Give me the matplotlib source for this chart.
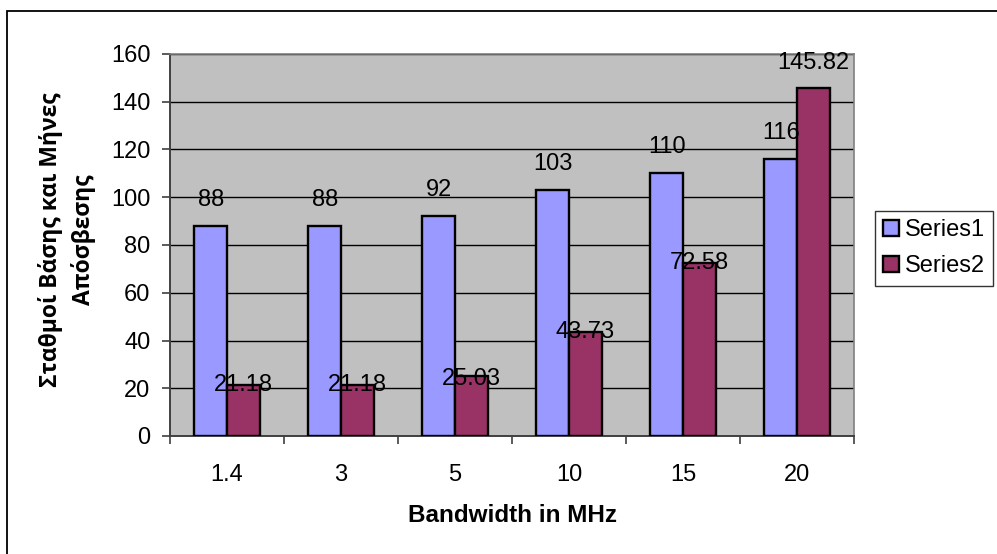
import matplotlib
matplotlib.use("Agg")
import matplotlib.pyplot as plt
from matplotlib.patches import Rectangle
import numpy as np

# data
bandwidth = ["1.4", "3", "5", "10", "15", "20"]
series1 = [88, 88, 92, 103, 110, 116]
series2 = [21.18, 21.18, 25.03, 43.73, 72.58, 145.82]
series_names = ["Series1", "Series2"]

# label offsets (points above bar top), Excel put them a bit irregularly
off1 = [19, 19, 19, 19, 19, 19]
off2 = [0, 0, -2, 0, 0, 18]

W, H = 997, 554
fig = plt.figure(figsize=(W / 100, H / 100), dpi=100)
fig.patch.set_facecolor("white")

# outer chart border (right/bottom run off the picture)
fig.patches.append(Rectangle((7 / W, -0.1), 1.2, 1 - 11 / H + 0.1,
                             transform=fig.transFigure, fill=False,
                             edgecolor="black", linewidth=1.3))

ax = fig.add_axes([170 / W, 1 - 436 / H, (854 - 170) / W, (436 - 54) / H])
ax.set_facecolor("#C0C0C0")

x = np.arange(len(bandwidth))
bw = 1 / 3.5
b1 = ax.bar(x - bw / 2, series1, bw, color="#9999FF", edgecolor="black",
            linewidth=1.7, label=series_names[0], zorder=3)
b2 = ax.bar(x + bw / 2, series2, bw, color="#993366", edgecolor="black",
            linewidth=1.7, label=series_names[1], zorder=3)

for rect, v, o in zip(b1, series1, off1):
    ax.annotate(f"{v:g}", (rect.get_x() + rect.get_width() / 2, v),
                xytext=(0, o), textcoords="offset points", ha="center",
                va="center", fontsize=17, fontfamily="Liberation Sans", zorder=5)
for rect, v, o in zip(b2, series2, off2):
    ax.annotate(f"{v:.2f}", (rect.get_x() + rect.get_width() / 2, v),
                xytext=(0, o), textcoords="offset points", ha="center",
                va="center", fontsize=17, fontfamily="Liberation Sans", zorder=5)

ax.set_xlim(-0.5, len(bandwidth) - 0.5)
ax.set_ylim(0, 160)
ax.set_yticks(range(0, 161, 20))
ax.yaxis.grid(True, color="black", linewidth=1.0, zorder=1)
ax.set_axisbelow(True)

ax.set_xticks(x)
ax.set_xticklabels(bandwidth)
ax.set_xticks(np.arange(-0.5, len(bandwidth)), minor=True)
ax.tick_params(axis="x", which="major", length=0, pad=20)
ax.tick_params(axis="x", which="minor", length=6, width=1.2, color="#404040")
ax.tick_params(axis="y", length=6, width=1.2, color="#404040", pad=8)
for lab in ax.get_xticklabels() + ax.get_yticklabels():
    lab.set_fontsize(17)
    lab.set_fontfamily("Liberation Sans")

for side in ["top", "right"]:
    ax.spines[side].set_color("#808080")
    ax.spines[side].set_linewidth(1.2)
for side in ["left", "bottom"]:
    ax.spines[side].set_color("#404040")
    ax.spines[side].set_linewidth(1.4)

fig.text(512 / W, 1 - 516 / H, "Bandwidth in MHz", ha="center", va="center",
         fontsize=17.5, fontweight="bold", fontfamily="Liberation Sans")
fig.text(67 / W, 1 - 240 / H, "Σταθμοί Βάσης και Μήνες\nΑπόσβεσης",
         rotation=90, ha="center", va="center", multialignment="center",
         fontsize=16.5, fontweight="bold", fontfamily="Open Sans",
         linespacing=1.45)

leg = fig.legend(loc="upper left", bbox_to_anchor=(875 / W, 1 - 211 / H),
                 bbox_transform=fig.transFigure, frameon=True, fancybox=False,
                 prop={"family": "Liberation Sans", "size": 17},
                 handlelength=0.65, handleheight=0.65, handletextpad=0.25,
                 borderpad=0.35, labelspacing=0.6, borderaxespad=0)
leg.get_frame().set_edgecolor("black")
leg.get_frame().set_linewidth(1.0)
for h in leg.legend_handles:
    h.set_linewidth(1.7)

fig.savefig("out.png", dpi=100)
